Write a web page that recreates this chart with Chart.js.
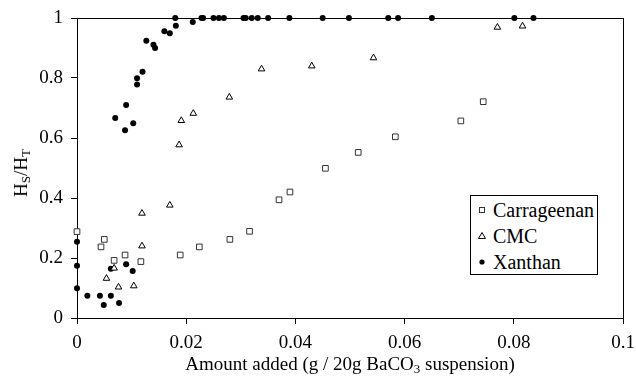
<!DOCTYPE html>
<html>
<head>
<meta charset="utf-8">
<script src="https://cdn.jsdelivr.net/npm/chart.js@4"></script>
<style>
  html, body { margin: 0; padding: 0; background: #fff; }
  #wrap { position: relative; width: 636px; height: 383px; font-family: "Liberation Serif", "Times New Roman", serif; color: #000; }
  canvas { position: absolute; left: 0; top: 0; }
  .ytitle { position: absolute; left: 21px; top: 173px; transform: translate(-50%, -50%) rotate(-90deg); font-size: 19px; white-space: nowrap; line-height: 20px; }
  .xtitle { position: absolute; left: 350px; top: 364px; transform: translate(-50%, -50%); font-size: 19px; white-space: nowrap; line-height: 20px; }
  sub { font-size: 0.68em; vertical-align: -0.25em; line-height: 0; }
  #legend { position: absolute; left: 470px; top: 195px; width: 126px; height: 78px; border: 1px solid #000; background: #fff; }
  .row { position: absolute; left: 0; height: 22px; line-height: 22px; font-size: 20px; white-space: nowrap; }
  .row svg { position: absolute; left: 6px; top: 6px; }
  .row span { position: absolute; left: 22px; top: 0; }
</style>
</head>
<body>
<div id="wrap">
  <canvas id="c" width="636" height="383"></canvas>
  <div class="ytitle">H<sub>S</sub>/H<sub>T</sub></div>
  <div class="xtitle">Amount added (g / 20g BaCO<sub>3</sub> suspension)</div>
  <div id="legend">
    <div class="row" style="top:3px"><svg width="10" height="10"><rect x="2.5" y="2.5" width="5" height="5" fill="#fff" stroke="#333" stroke-width="1"/></svg><span>Carrageenan</span></div>
    <div class="row" style="top:29px"><svg width="10" height="10"><polygon points="5,1.5 8.5,7.5 1.5,7.5" fill="#fff" stroke="#000" stroke-width="1"/></svg><span>CMC</span></div>
    <div class="row" style="top:55px"><svg width="10" height="10"><circle cx="5" cy="5" r="2.6" fill="#000"/></svg><span>Xanthan</span></div>
  </div>
</div>
<script>
// ---- data ----
const xTicks = [0, 0.02, 0.04, 0.06, 0.08, 0.1];
const xTickLabels = ["0", "0.02", "0.04", "0.06", "0.08", "0.1"];
const yTicks = [0, 0.2, 0.4, 0.6, 0.8, 1];
const yTickLabels = ["0", "0.2", "0.4", "0.6", "0.8", "1"];

const seriesNames = ["Carrageenan", "CMC", "Xanthan"];

const carrX = [0, 0.0044, 0.0050, 0.0068, 0.0088, 0.0117, 0.0189, 0.0224, 0.0280, 0.0316, 0.0370, 0.0390, 0.0455, 0.0515, 0.0583, 0.0703, 0.0744];
const carrY = [0.288, 0.237, 0.262, 0.192, 0.210, 0.188, 0.210, 0.237, 0.262, 0.289, 0.394, 0.420, 0.499, 0.552, 0.604, 0.657, 0.721];

const cmcX = [0.0054, 0.0068, 0.0076, 0.0104, 0.0119, 0.0119, 0.0170, 0.0187, 0.0191, 0.0213, 0.0279, 0.0338, 0.0430, 0.0543, 0.0770, 0.0816];
const cmcY = [0.132, 0.166, 0.103, 0.107, 0.240, 0.349, 0.376, 0.577, 0.658, 0.682, 0.736, 0.830, 0.840, 0.867, 0.969, 0.973];

const xanX = [0, 0, 0, 0.0019, 0.0042, 0.0049, 0.0062, 0.0062, 0.0077, 0.0070, 0.0088, 0.0090, 0.0090, 0.0102, 0.0103, 0.0110, 0.0110, 0.0120, 0.0127, 0.0140, 0.0143, 0.0160, 0.0170, 0.0181, 0.0180, 0.0212,
              0.0228, 0.0231, 0.0250, 0.0260, 0.0269, 0.0305, 0.0309, 0.0320, 0.0331, 0.0350, 0.0389, 0.0450, 0.0498, 0.0570, 0.0588, 0.0650, 0.0801, 0.0836];
const xanY = [0.099, 0.174, 0.254, 0.074, 0.074, 0.043, 0.074, 0.164, 0.050, 0.667, 0.626, 0.710, 0.179, 0.157, 0.649, 0.778, 0.799, 0.821, 0.924, 0.911, 0.900, 0.956, 0.949, 0.974, 1.000, 0.987,
              1, 1, 1, 1, 1, 1, 1, 1, 1, 1, 1, 1, 1, 1, 1, 1, 1, 1];

const pts = (xs, ys) => xs.map((x, i) => ({ x: x, y: ys[i] }));

const FONT = { family: "'Liberation Serif', 'Times New Roman', serif", size: 19 };

const framePlugin = {
  id: 'frame',
  beforeDatasetsDraw(chart) {
    const a = chart.chartArea, ctx = chart.ctx;
    ctx.save();
    ctx.strokeStyle = '#000';
    ctx.lineWidth = 1;
    ctx.strokeRect(Math.round(a.left) + 0.5, Math.round(a.top) + 0.5, Math.round(a.right - a.left), Math.round(a.bottom - a.top));
    ctx.restore();
  }
};

new Chart(document.getElementById('c'), {
  type: 'scatter',
  data: {
    datasets: [
      { label: seriesNames[0], data: pts(carrX, carrY), pointStyle: 'rect', pointRadius: 4, backgroundColor: '#fff', borderColor: '#333', borderWidth: 1, clip: false },
      { label: seriesNames[1], data: pts(cmcX, cmcY), pointStyle: 'triangle', pointRadius: 3.8, backgroundColor: '#fff', borderColor: '#000', borderWidth: 1, clip: false },
      { label: seriesNames[2], data: pts(xanX, xanY), pointStyle: 'circle', pointRadius: 3, backgroundColor: '#000', borderColor: '#000', borderWidth: 0, clip: false }
    ]
  },
  options: {
    responsive: false,
    animation: false,
    layout: { padding: { left: 0, top: 18, right: 13, bottom: 0 } },
    plugins: { legend: { display: false }, tooltip: { enabled: false } },
    scales: {
      x: {
        type: 'linear', min: 0, max: 0.1,
        afterBuildTicks(s) { s.ticks = xTicks.map(v => ({ value: v })); },
        afterFit(s) { s.height = 65; s.paddingLeft = 0; s.paddingRight = 0; },
        ticks: { callback: (v, i) => xTickLabels[i], font: FONT, color: '#000', padding: 8, maxRotation: 0, autoSkip: false },
        grid: { drawOnChartArea: false, drawTicks: true, tickLength: 6, color: '#000' },
        border: { color: '#000', width: 1 }
      },
      y: {
        type: 'linear', min: 0, max: 1,
        afterBuildTicks(s) { s.ticks = yTicks.map(v => ({ value: v })); },
        afterFit(s) { s.width = 77; s.paddingTop = 0; s.paddingBottom = 0; },
        ticks: { callback: (v, i) => yTickLabels[i], font: FONT, color: '#000', padding: 8, autoSkip: false },
        grid: { drawOnChartArea: false, drawTicks: true, tickLength: 6, color: '#000' },
        border: { color: '#000', width: 1 }
      }
    }
  },
  plugins: [framePlugin]
});
</script>
</body>
</html>
